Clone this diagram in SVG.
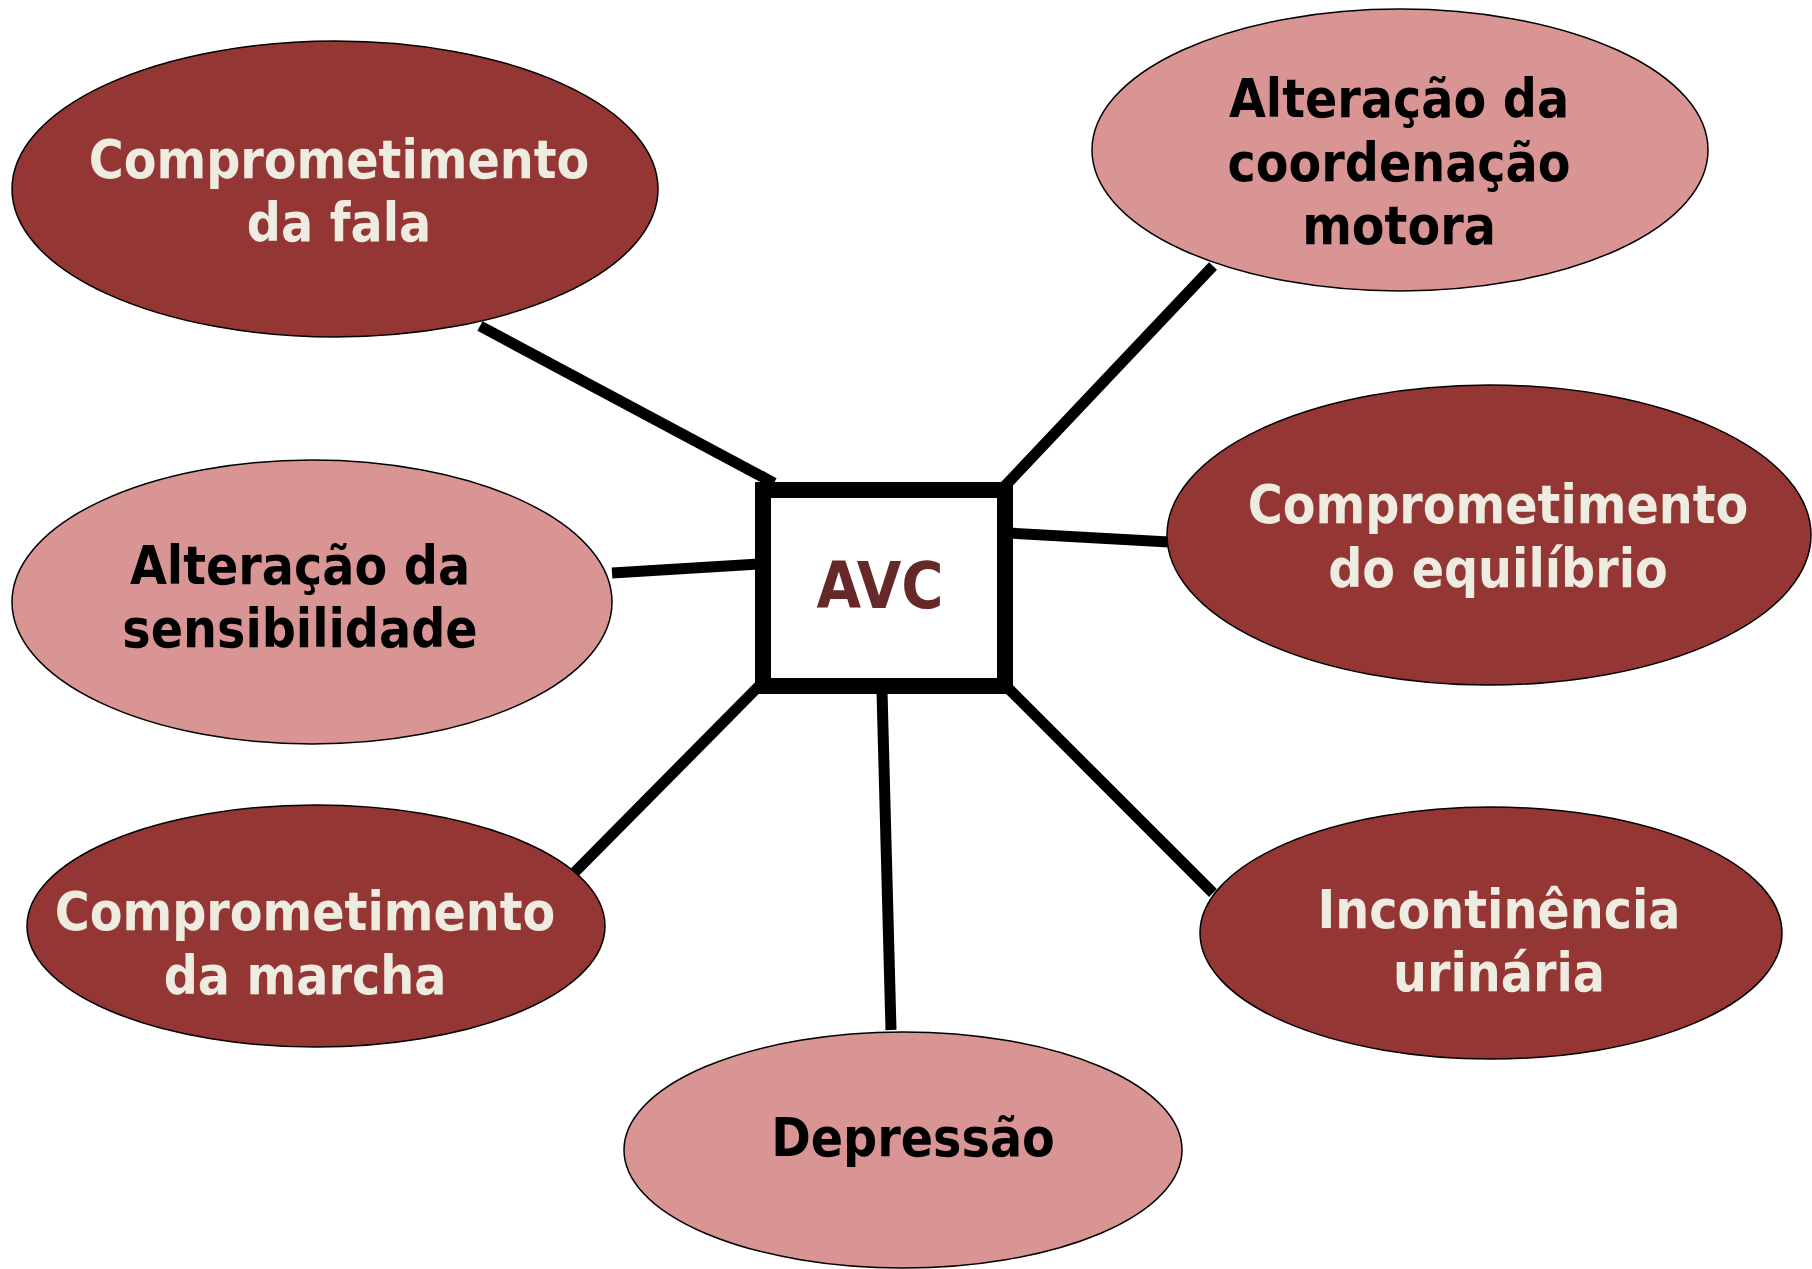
<svg xmlns="http://www.w3.org/2000/svg" width="1812" height="1269" viewBox="0 0 1812 1269">
<style>
.dark{fill:#943634;stroke:#000;stroke-width:1.5}
.light{fill:#D99594;stroke:#000;stroke-width:1.5}
text{font-family:"DejaVu Sans Condensed","DejaVu Sans",sans-serif;font-weight:bold;font-size:53px;text-anchor:middle}
.tl{fill:#EEECE1}
.td{fill:#000}
.con line{stroke:#000;stroke-width:11}
</style>
<rect width="1812" height="1269" fill="#fff"/>
<g class="con">
<line x1="480" y1="326" x2="774" y2="483"/>
<line x1="1213" y1="266" x2="1003" y2="488"/>
<line x1="612" y1="573" x2="759" y2="564"/>
<line x1="1009" y1="533" x2="1169" y2="542"/>
<line x1="759" y1="686" x2="569" y2="878"/>
<line x1="882" y1="691" x2="891" y2="1030"/>
<line x1="1006" y1="686" x2="1213" y2="893"/>
</g>
<g id="n1"><ellipse class="dark" cx="335" cy="189" rx="323" ry="148"/>
<text class="tl" x="339" y="178">Comprometimento</text><text class="tl" x="339" y="241">da fala</text></g>
<g id="n2"><ellipse class="light" cx="1400" cy="150" rx="308" ry="141"/>
<text class="td" x="1399" y="117">Alteração da</text><text class="td" x="1399" y="181">coordenação</text><text class="td" x="1399" y="244">motora</text></g>
<g id="n3"><ellipse class="light" cx="312" cy="602" rx="300" ry="142"/>
<text class="td" x="300" y="584">Alteração da</text><text class="td" x="300" y="647">sensibilidade</text></g>
<g id="n4"><ellipse class="dark" cx="1489" cy="535" rx="322" ry="150"/>
<text class="tl" x="1498" y="523">Comprometimento</text><text class="tl" x="1498" y="587">do equilíbrio</text></g>
<g id="n5"><ellipse class="dark" cx="316" cy="926" rx="289" ry="121"/>
<text class="tl" x="305" y="930">Comprometimento</text><text class="tl" x="305" y="994">da marcha</text></g>
<g id="n6"><ellipse class="dark" cx="1491" cy="933" rx="291" ry="126"/>
<text class="tl" x="1499" y="928">Incontinência</text><text class="tl" x="1499" y="991">urinária</text></g>
<g id="n7"><ellipse class="light" cx="903" cy="1150" rx="279" ry="118"/>
<text class="td" x="913" y="1156">Depressão</text></g>
<g id="avc"><rect x="763" y="490" width="242" height="196" fill="#fff" stroke="#000" stroke-width="16"/>
<text x="880" y="608" style="font-size:64px;fill:#662828">AVC</text></g>
</svg>
